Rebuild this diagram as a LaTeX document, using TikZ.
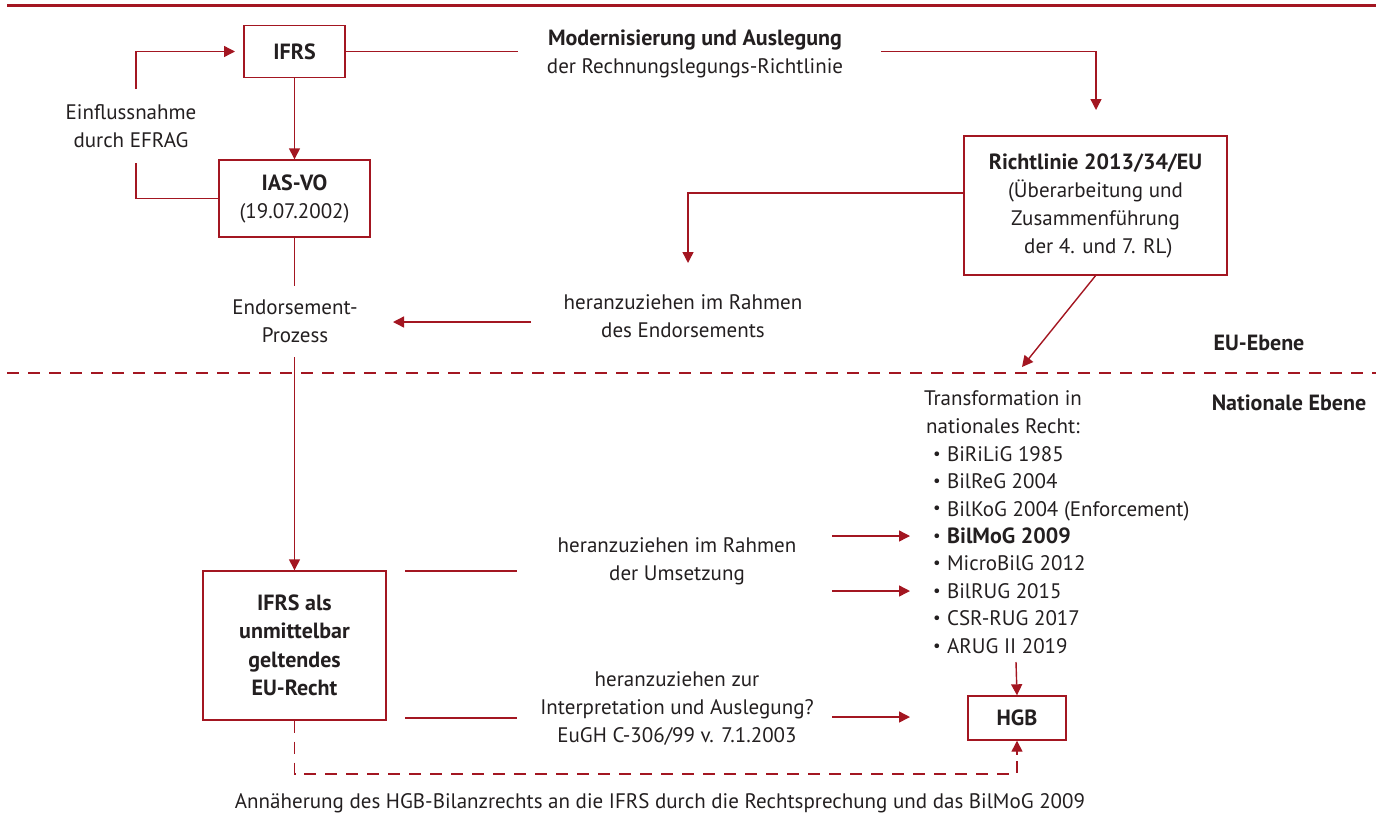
\documentclass[tikz,border=0pt]{standalone}
\usepackage{fontspec}
\setmainfont{PT Sans}
\usepackage{graphicx}
\usetikzlibrary{arrows.meta}
\definecolor{rot}{RGB}{163,22,33}
\definecolor{txt}{RGB}{35,31,32}
\newcommand{\bul}{\raisebox{0.2ex}{\scalebox{0.8}{\textbullet}}\hspace{0.3em}}
\newcommand{\bb}[1]{{\fontsize{22}{28}\selectfont\bfseries #1}}
\tikzset{
  every node/.style={text=txt, font=\fontsize{21}{28}\selectfont, inner sep=0pt},
  box/.style={draw=rot, line width=1.4pt, align=center},
  lbl/.style={align=center},
  bold/.style={font=\fontsize{22}{28.5}\selectfont\bfseries},
  con/.style={draw=rot, line width=1.4pt},
  arr/.style={con, -{Triangle[length=11pt,width=11pt]}},
  dsh/.style={con, dash pattern=on 12pt off 9pt},
}
\begin{document}
\begin{tikzpicture}[x=1pt,y=-1pt]
\useasboundingbox (0,0) rectangle (1381,839);
% rules
\draw[rot, line width=3pt] (7,5) -- (1376,5);
\draw[dsh] (7,373) -- (1376,373);
% boxes
\node[box, bold, minimum width=101pt, minimum height=52pt] (ifrs) at (294.5,51.5) {IFRS};
\node[box, minimum width=151pt, minimum height=77pt] (ias) at (294.5,198.5) {\bb{IAS-VO}\\(19.07.2002)};
\node[box, bold, minimum width=183pt, minimum height=149pt] (ifrseu) at (294.5,645.5) {IFRS als\\unmittelbar\\geltendes\\EU-Recht};
\node[box, minimum width=263pt, minimum height=139pt] (rl) at (1095.5,205.5) {\bb{Richtlinie 2013/34/EU}\\(Überarbeitung und\\Zusammenführung\\\ der 4. und 7. RL)};
\node[box, bold, minimum width=98pt, minimum height=44pt] (hgb) at (1017,718) {HGB};
% labels
\node[lbl] (efrag) at (131,126) {Einflussnahme\\durch EFRAG};
\node[lbl] (endo) at (295,321) {Endorsement-\\Prozess};
\node[lbl] (modern) at (695,54) {\bb{Modernisierung und Auslegung}\\der Rechnungslegungs-Richtlinie};
\node[lbl] (endotxt) at (683,316) {heranzuziehen im Rahmen\\des Endorsements};
\node[lbl] (umsetz) at (677,561) {heranzuziehen im Rahmen\\der Umsetzung};
\node[lbl] (interp) at (677,709) {heranzuziehen zur\\Interpretation und Auslegung?\\EuGH C-306/99 v. 7.1.2003};
\node[lbl] (transf) at (1003,412) {Transformation in\\nationales Recht:};
\node[align=left, anchor=north west, font=\fontsize{21}{27.45}\selectfont] (liste) at (933,446) {\bul BiRiLiG 1985\\\bul BilReG 2004\\\bul BilKoG 2004 (Enforcement)\\\bul\bb{BilMoG 2009}\\\bul MicroBilG 2012\\\bul BilRUG 2015\\\bul CSR-RUG 2017\\\bul ARUG II 2019};
\node[bold] (eu) at (1259,343) {EU-Ebene};
\node[bold] (nat) at (1289,403) {Nationale Ebene};
\node[lbl] (caption) at (660,803) {Annäherung des HGB-Bilanzrechts an die IFRS durch die Rechtsprechung und das BilMoG 2009};
% coordinates
\coordinate (e1) at (136,163);
\coordinate (e2) at (136,89);
\coordinate (ifrsin) at (235,51.5);
\coordinate (endotop) at (294.5,286);
\coordinate (endobot) at (294.5,357);
\coordinate (m1) at (518,51.5);
\coordinate (m2) at (881,51.5);
\coordinate (rltip) at (1096,110);
\coordinate (rlout) at (964,193);
\coordinate (endodown) at (688,263);
\coordinate (et1) at (531,322);
\coordinate (et2) at (393,322);
\coordinate (diag) at (1022,367);
\coordinate (u1) at (405,571);
\coordinate (u2) at (517,571);
\coordinate (u3) at (405,718);
\coordinate (u4) at (517,718);
\coordinate (a1s) at (832,536);
\coordinate (a1e) at (910,536);
\coordinate (a2s) at (832,591);
\coordinate (a2e) at (910,591);
\coordinate (a3s) at (832,717);
\coordinate (a3e) at (910,717);
\coordinate (hgbtop) at (1016,662);
\coordinate (dcorner) at (294.5,774);
% connectors
\draw[con] (ias.west) -| (e1);
\draw[arr] (e2) |- (ifrsin);
\draw[arr] (ifrs) -- (ias);
\draw[con] (ias.south) -- (endotop);
\draw[arr] (endobot) -- (ifrseu.north);
\draw[con] (ifrs.east) -- (m1);
\draw[arr] (m2) -| (rltip);
\draw[arr] (rlout) -| (endodown);
\draw[arr] (et1) -- (et2);
\draw[arr] (rl.south) -- (diag);
\draw[con] (u1) -- (u2);
\draw[con] (u3) -- (u4);
\draw[arr] (a1s) -- (a1e);
\draw[arr] (a2s) -- (a2e);
\draw[arr] (a3s) -- (a3e);
\draw[arr] (hgbtop) -- (hgb.north);
\draw[dsh] (ifrseu.south) -- (dcorner) -| ([yshift=-14pt]hgb.south);
\draw[arr] ([yshift=-14pt]hgb.south) -- (hgb.south);
\end{tikzpicture}
\end{document}
